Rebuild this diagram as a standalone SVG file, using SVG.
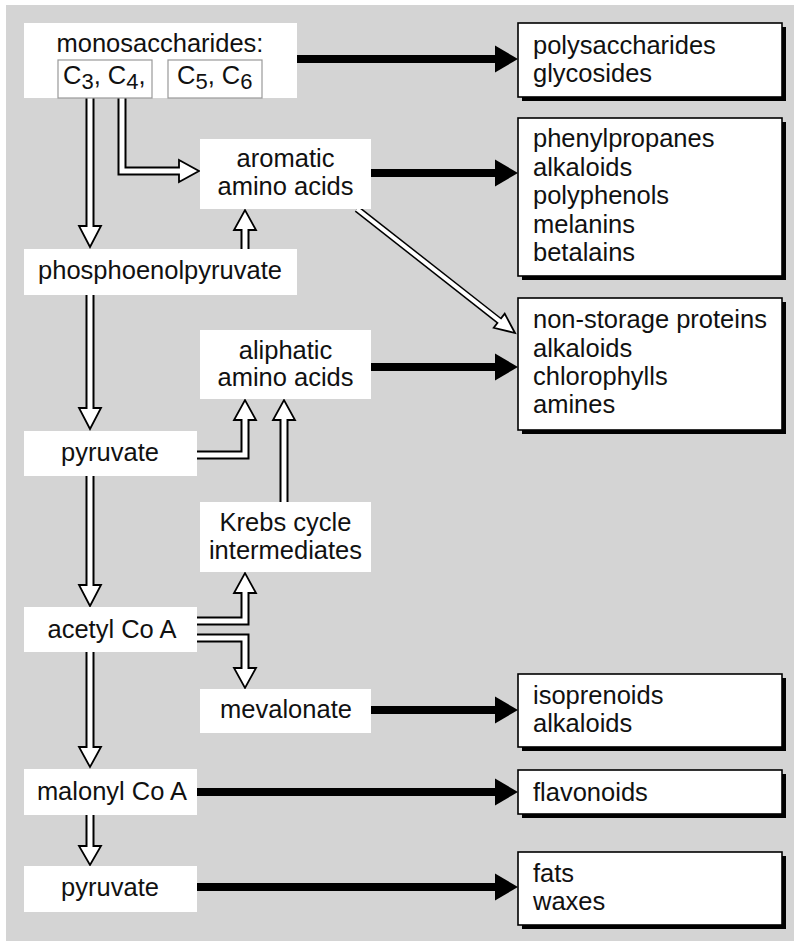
<svg xmlns="http://www.w3.org/2000/svg" width="794" height="942" viewBox="0 0 794 942">
<style>
text{font-family:"Liberation Sans",Arial,Helvetica,sans-serif;font-size:25.5px;fill:#111}
.c{text-anchor:middle}
.node{fill:#fff}
.cbox{fill:#fff;stroke:#999;stroke-width:1.2}
.rbox{fill:#fff;stroke:#000;stroke-width:1.6}
.shadow{fill:#000}
.bl{stroke:#000;stroke-width:8;fill:none}
.bh{fill:#000}
.so{stroke:#000;stroke-width:9;fill:none;stroke-linejoin:miter}
.si{stroke:#fff;stroke-width:5;fill:none;stroke-linejoin:miter}
.do{stroke:#000;stroke-width:7;fill:none}
.di{stroke:#fff;stroke-width:4;fill:none}
.hh{fill:#fff;stroke:#000;stroke-width:1.8;stroke-linejoin:miter}
.sub{font-size:22px}
</style>
<rect x="0" y="0" width="794" height="942" fill="#fff"/>
<rect x="6" y="5" width="788" height="936" fill="#d4d4d4"/>

<g id="connectors">
  <!-- black output arrows -->
  <line class="bl" x1="297" y1="59" x2="497" y2="59"/><polygon class="bh" points="495,45.5 518,59 495,72.5"/>
  <line class="bl" x1="371" y1="173" x2="497" y2="173"/><polygon class="bh" points="495,159.5 518,173 495,186.5"/>
  <line class="bl" x1="371" y1="367" x2="497" y2="367"/><polygon class="bh" points="495,353.5 518,367 495,380.5"/>
  <line class="bl" x1="371" y1="710" x2="497" y2="710"/><polygon class="bh" points="495,696.5 518,710 495,723.5"/>
  <line class="bl" x1="197" y1="792" x2="497" y2="792"/><polygon class="bh" points="495,778.5 518,792 495,805.5"/>
  <line class="bl" x1="197" y1="887" x2="497" y2="887"/><polygon class="bh" points="495,873.5 518,887 495,900.5"/>

  <!-- hollow arrows -->
  <g id="a1"><path class="so" d="M90,98 V226"/><polygon class="hh" points="79,226 101,226 90,247"/><path class="si" d="M90,98 V228"/></g>
  <g id="a2"><path class="so" d="M122,98 V171 H179"/><polygon class="hh" points="179,160 179,182 199,171"/><path class="si" d="M122,98 V171 H181"/></g>
  <g id="a3"><path class="so" d="M245,249 V230"/><polygon class="hh" points="234,230 256,230 245,210"/><path class="si" d="M245,249 V228"/></g>
  <g id="a4"><path class="so" d="M90,295 V408"/><polygon class="hh" points="79,408 101,408 90,429"/><path class="si" d="M90,295 V410"/></g>
  <g id="a5"><path class="so" d="M197,455 H245 V420"/><polygon class="hh" points="234,420 256,420 245,400"/><path class="si" d="M197,455 H245 V418"/></g>
  <g id="a6"><path class="so" d="M284,502 V420"/><polygon class="hh" points="273,420 295,420 284,400"/><path class="si" d="M284,502 V418"/></g>
  <g id="a7"><path class="so" d="M90,476 V585"/><polygon class="hh" points="79,585 101,585 90,606"/><path class="si" d="M90,476 V587"/></g>
  <g id="a8"><path class="so" d="M197,621 H245 V593"/><polygon class="hh" points="234,593 256,593 245,573"/><path class="si" d="M197,621 H245 V591"/></g>
  <g id="a9"><path class="so" d="M197,638 H245 V668"/><polygon class="hh" points="234,668 256,668 245,688"/><path class="si" d="M197,638 H245 V670"/></g>
  <g id="a10"><path class="so" d="M90,652 V747"/><polygon class="hh" points="79,747 101,747 90,767"/><path class="si" d="M90,652 V749"/></g>
  <g id="a11"><path class="so" d="M90,815 V846"/><polygon class="hh" points="79,846 101,846 90,865"/><path class="si" d="M90,815 V848"/></g>
  <g id="a12"><path class="do" d="M357,209 L499.2,320.7"/><polygon class="hh" points="493.7,327.8 504.7,313.6 515,333"/><path class="di" d="M357,209 L500.8,321.9"/></g>
</g>

<g id="n-mono">
  <rect class="node" x="24" y="23" width="273" height="75"/>
  <text class="c" x="160" y="52">monosaccharides:</text>
  <rect class="cbox" x="58" y="60" width="94" height="38"/>
  <rect class="cbox" x="168" y="60" width="94" height="38"/>
  <text x="63" y="84">C<tspan class="sub" dy="5">3</tspan><tspan dy="-5">, C</tspan><tspan class="sub" dy="5">4</tspan><tspan dy="-5">,</tspan></text>
  <text x="177" y="84">C<tspan class="sub" dy="5">5</tspan><tspan dy="-5">, C</tspan><tspan class="sub" dy="5">6</tspan></text>
</g>
<g id="n-aromatic"><rect class="node" x="200" y="139" width="171" height="70"/><text class="c" x="285.5" y="167">aromatic</text><text class="c" x="285.5" y="195">amino acids</text></g>
<g id="n-pep"><rect class="node" x="24" y="249" width="273" height="46"/><text class="c" x="160" y="279">phosphoenolpyruvate</text></g>
<g id="n-aliphatic"><rect class="node" x="200" y="330" width="171" height="69"/><text class="c" x="285.5" y="359">aliphatic</text><text class="c" x="285.5" y="386">amino acids</text></g>
<g id="n-pyruvate"><rect class="node" x="24" y="431" width="173" height="45"/><text class="c" x="110" y="461">pyruvate</text></g>
<g id="n-krebs"><rect class="node" x="200" y="502" width="171" height="70"/><text class="c" x="285.5" y="531">Krebs cycle</text><text class="c" x="285.5" y="559">intermediates</text></g>
<g id="n-acetyl"><rect class="node" x="24" y="607" width="173" height="45"/><text class="c" x="112" y="638">acetyl Co A</text></g>
<g id="n-mevalonate"><rect class="node" x="200" y="689" width="171" height="44"/><text class="c" x="286" y="718">mevalonate</text></g>
<g id="n-malonyl"><rect class="node" x="24" y="769" width="173" height="46"/><text class="c" x="112" y="800">malonyl Co A</text></g>
<g id="n-pyruvate2"><rect class="node" x="24" y="866" width="173" height="46"/><text class="c" x="110" y="896">pyruvate</text></g>

<g id="r-poly"><rect class="shadow" x="522" y="27" width="264" height="74"/><rect class="rbox" x="518" y="23" width="264" height="74"/><text x="533" y="54">polysaccharides</text><text x="533" y="82">glycosides</text></g>
<g id="r-phenyl"><rect class="shadow" x="522" y="122" width="264" height="158"/><rect class="rbox" x="518" y="118" width="264" height="158"/><text x="533" y="147">phenylpropanes</text><text x="533" y="175.5">alkaloids</text><text x="533" y="204">polyphenols</text><text x="533" y="232.5">melanins</text><text x="533" y="261">betalains</text></g>
<g id="r-nonstorage"><rect class="shadow" x="522" y="302" width="264" height="132"/><rect class="rbox" x="518" y="298" width="264" height="132"/><text x="533" y="328">non-storage proteins</text><text x="533" y="357">alkaloids</text><text x="533" y="385">chlorophylls</text><text x="533" y="413">amines</text></g>
<g id="r-iso"><rect class="shadow" x="522" y="678" width="264" height="73"/><rect class="rbox" x="518" y="674" width="264" height="73"/><text x="533" y="704">isoprenoids</text><text x="533" y="732">alkaloids</text></g>
<g id="r-flav"><rect class="shadow" x="522" y="774" width="264" height="44"/><rect class="rbox" x="518" y="770" width="264" height="44"/><text x="533" y="801">flavonoids</text></g>
<g id="r-fats"><rect class="shadow" x="522" y="856" width="264" height="73"/><rect class="rbox" x="518" y="852" width="264" height="73"/><text x="533" y="882">fats</text><text x="533" y="910">waxes</text></g>
</svg>
